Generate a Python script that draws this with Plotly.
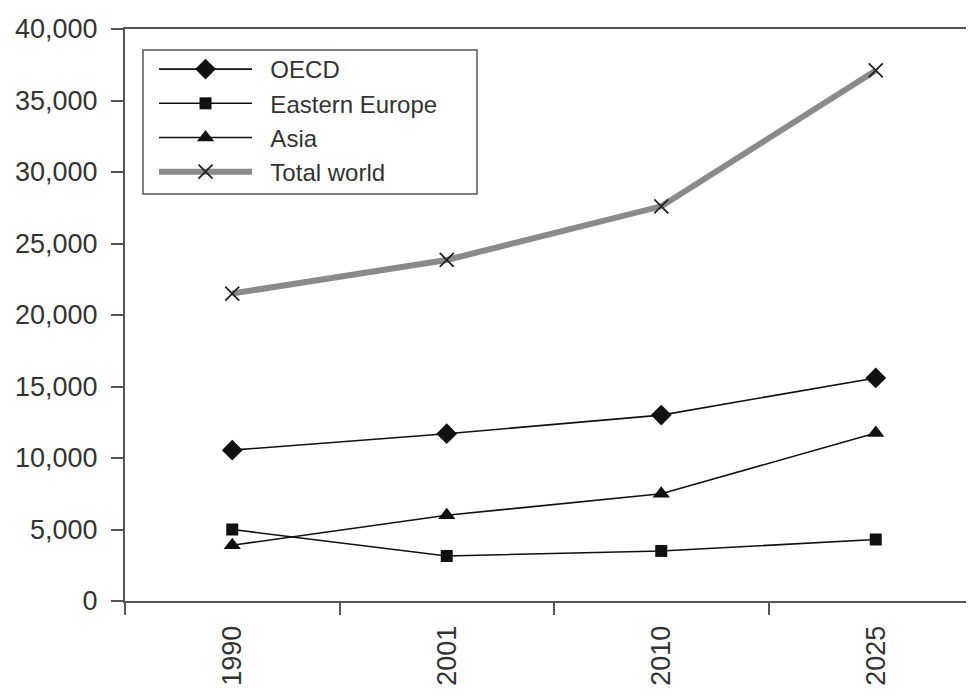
import plotly.graph_objects as go

years = ["1990", "2001", "2010", "2025"]
oecd = [10550, 11700, 13000, 15600]
eastern_europe = [5000, 3150, 3500, 4300]
asia = [3900, 6000, 7500, 11750]
total_world = [21500, 23850, 27600, 37100]
series_names = ["OECD", "Eastern Europe", "Asia", "Total world"]
y_ticks = [0, 5000, 10000, 15000, 20000, 25000, 30000, 35000, 40000]
y_tick_labels = ["0", "5,000", "10,000", "15,000", "20,000", "25,000", "30,000", "35,000", "40,000"]

pad = "\u00a0\u00a0"
fig = go.Figure()
fig.add_trace(go.Scatter(x=years, y=oecd, name=pad + series_names[0], mode="lines+markers",
                         line=dict(color="#111111", width=1.6),
                         marker=dict(symbol="diamond", size=16, color="#111111")))
fig.add_trace(go.Scatter(x=years, y=eastern_europe, name=pad + series_names[1], mode="lines+markers",
                         line=dict(color="#111111", width=1.6),
                         marker=dict(symbol="square", size=12, color="#111111")))
fig.add_trace(go.Scatter(x=years, y=asia, name=pad + series_names[2], mode="lines+markers",
                         line=dict(color="#111111", width=1.6),
                         marker=dict(symbol="triangle-up", size=15, color="#111111")))
fig.add_trace(go.Scatter(x=years, y=total_world, name=pad + series_names[3], mode="lines+markers",
                         line=dict(color="#8a8a8a", width=6),
                         marker=dict(symbol="x-thin", size=14, color="#222222",
                                     line=dict(color="#222222", width=1.8))))

fig.update_layout(
    width=966, height=688,
    margin=dict(l=117, r=0, t=21, b=95),
    paper_bgcolor="white", plot_bgcolor="white",
    font=dict(family="Liberation Sans, Arial, sans-serif", color="#333333"),
    showlegend=True,
    legend=dict(x=0.0342, y=0.9685, xanchor="left", yanchor="top",
                borderwidth=0, bgcolor="rgba(0,0,0,0)",
                font=dict(size=24, color="#333333"), itemwidth=93,
                tracegroupgap=0),
    shapes=[dict(type="rect", xref="paper", yref="paper",
                 x0=0.0212, x1=0.4146, y0=0.7115, y1=0.9633,
                 line=dict(color="#555555", width=1.5), fillcolor="rgba(0,0,0,0)",
                 layer="above")],
)
fig.update_xaxes(type="category", range=[-0.5, 3.458],
                 showline=True, linecolor="#555555", linewidth=2, mirror=True,
                 ticks="outside", ticklen=12, tickwidth=1.5, tickcolor="#555555",
                 tickson="boundaries", tickangle=-90, ticklabelstandoff=12,
                 tickfont=dict(size=27, color="#333333"),
                 showgrid=False, zeroline=False)
fig.update_yaxes(range=[0, 40000], tickvals=y_ticks, ticktext=y_tick_labels,
                 showline=True, linecolor="#555555", linewidth=2,
                 ticks="outside", ticklen=12, tickwidth=1.5, tickcolor="#555555",
                 ticklabelstandoff=8,
                 tickfont=dict(size=27, color="#333333"),
                 showgrid=False, zeroline=False)

fig.write_html("out.html")
